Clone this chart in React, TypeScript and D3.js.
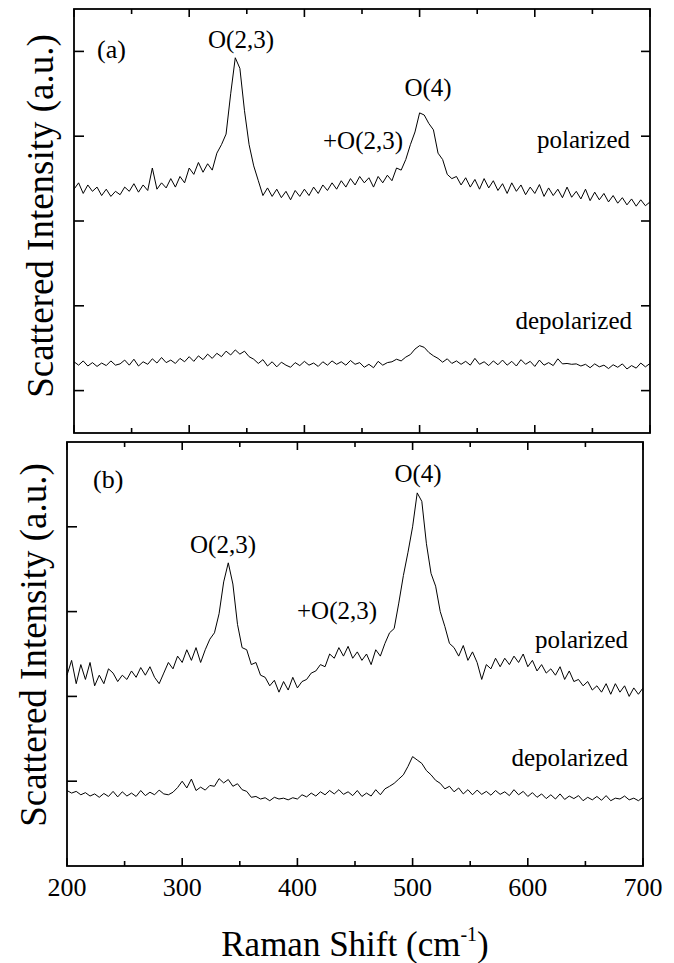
import React from "react";
import * as d3 from "d3";

// Raman shift grid (cm^-1), every 4 cm^-1 from 200 to 700
const wavenumbers: number[] = d3.range(200, 701, 4);

// Panel (a) polarized
const aPolarized: number[] = [
  57.5, 59.0, 56.5, 58.5, 57.0, 58.0, 56.0, 57.5, 55.8, 57.0, 56.2, 58.0, 57.0, 58.8, 56.8, 58.5, 57.2, 62.5,
  57.5, 59.0, 57.8, 60.0, 58.0, 60.5, 59.0, 62.5, 61.0, 63.8, 61.5, 63.5, 62.0, 66.0, 68.0, 70.5, 80.0, 88.5,
  86.0, 76.0, 68.0, 63.0, 59.5, 56.0, 57.8, 55.8, 57.5, 55.5, 57.0, 55.0, 57.2, 55.8, 57.5, 56.0, 58.0, 56.5,
  58.5, 57.2, 59.0, 57.5, 59.5, 58.0, 60.0, 58.5, 60.5, 59.0, 60.2, 58.0, 60.5, 59.0, 60.8, 59.5, 62.5, 62.0,
  64.5, 68.0, 71.0, 75.5, 75.0, 73.0, 71.5, 66.0, 64.5, 61.0, 60.0, 60.5, 58.5, 60.2, 58.0, 59.8, 57.5, 60.0,
  57.8, 59.5, 57.2, 58.8, 56.5, 59.0, 57.0, 58.5, 56.2, 58.0, 56.5, 58.6, 55.8, 57.8, 56.0, 57.5, 55.5, 58.0,
  55.6, 57.0, 55.2, 57.5, 54.8, 56.8, 55.0, 56.5, 54.5, 56.0, 54.2, 55.5, 53.8, 55.2, 53.5, 55.0, 53.6, 54.5,
];

// Panel (a) depolarized
const aDepolarized: number[] = [
  16.8, 16.0, 17.0, 15.8, 16.6, 15.7, 16.5, 15.9, 17.0, 16.0, 16.3, 17.2, 16.0, 17.4, 15.8, 16.8, 16.2, 17.5,
  16.5, 17.8, 16.6, 17.2, 16.4, 17.6, 16.8, 18.0, 16.9, 18.2, 17.3, 18.6, 17.6, 18.8, 18.0, 19.3, 18.4, 19.6,
  18.6, 19.3, 18.0, 17.4, 16.4, 17.3, 15.8, 16.8, 15.6, 16.7, 16.0, 15.5, 16.6, 15.9, 16.9, 16.0, 16.5, 15.7,
  16.8, 16.0, 17.0, 16.2, 16.8, 16.0, 17.1, 16.2, 16.6, 15.5, 16.2, 15.4, 16.9, 16.0, 16.6, 16.8, 17.4, 17.0,
  17.9, 18.5, 19.8, 20.6, 20.2, 19.0, 18.2, 17.6, 16.7, 17.5, 16.4, 17.0, 16.2, 16.9, 16.0, 17.6, 16.2, 16.8,
  15.9, 17.0, 16.1, 17.2, 16.0, 16.9, 15.8, 17.3, 16.2, 16.9, 15.7, 17.2, 16.0, 16.6, 15.9, 17.5, 16.3, 16.4,
  16.2, 16.3, 15.8, 16.2, 15.4, 16.3, 15.6, 16.0, 15.2, 16.1, 15.5, 16.3, 15.1, 15.9, 15.3, 16.5, 15.6, 16.4,
];

// Panel (b) polarized
const bPolarized: number[] = [
  45.0, 48.5, 43.0, 47.5, 44.0, 48.0, 42.5, 45.0, 43.0, 46.5, 45.5, 43.5, 45.0, 44.0, 46.0, 44.5, 46.8, 45.0,
  47.0, 44.5, 43.0, 45.5, 48.0, 46.5, 49.5, 48.0, 51.0, 48.5, 51.5, 48.0, 51.0, 53.5, 55.0, 59.5, 67.0, 71.5,
  66.5, 57.0, 51.5, 51.0, 47.5, 48.0, 45.0, 44.5, 42.5, 43.8, 41.0, 43.5, 41.5, 44.5, 42.0, 43.5, 44.0, 45.5,
  46.0, 47.5, 47.0, 50.0, 49.0, 51.5, 49.5, 51.8, 49.0, 50.5, 48.5, 50.0, 47.5, 51.0, 49.5, 52.5, 55.0, 56.0,
  62.0, 68.5, 74.0, 80.0, 88.0, 86.0, 76.0, 69.0, 66.0, 60.0, 56.5, 52.5, 51.5, 49.5, 52.0, 48.5, 50.5, 48.0,
  44.0, 47.5, 46.5, 49.0, 47.0, 49.0, 47.5, 49.5, 48.0, 50.0, 47.0, 48.5, 46.0, 47.5, 45.5, 46.5, 45.0, 47.0,
  44.0, 46.0, 43.5, 44.0, 42.5, 43.5, 41.5, 42.5, 41.0, 43.0, 40.5, 43.0, 41.0, 42.5, 40.0, 42.0, 40.5, 42.0,
];

// Panel (b) depolarized
const bDepolarized: number[] = [
  17.8, 17.2, 17.6, 16.8, 17.3, 16.5, 17.0, 16.2, 17.1, 16.4, 17.6, 16.3, 17.5, 16.5, 17.2, 16.4, 17.8, 16.6,
  17.4, 16.8, 17.9, 17.0, 16.8, 17.4, 18.5, 20.0, 18.4, 20.5, 17.8, 18.6, 17.9, 19.0, 18.8, 20.6, 19.6, 20.4,
  18.8, 19.4, 18.0, 17.6, 16.2, 16.4, 15.8, 16.1, 15.4, 16.2, 15.8, 16.0, 15.6, 16.1, 15.8, 16.8, 16.3, 17.2,
  16.5, 17.5, 16.8, 17.8, 17.0, 18.0, 16.9, 17.5, 16.6, 17.8, 16.4, 17.2, 16.5, 18.0, 16.8, 18.2, 18.8, 19.5,
  20.5, 21.5, 23.5, 25.8, 25.0, 24.2, 22.5, 21.5, 20.2, 19.5, 18.2, 18.8, 17.5, 18.4, 17.0, 18.0, 16.8, 17.9,
  16.9, 17.6, 16.7, 17.8, 16.9, 17.5, 16.6, 18.0, 16.8, 17.6, 16.4, 17.3, 16.2, 17.0, 15.9, 16.8, 15.8, 17.0,
  15.7, 16.5, 15.9, 16.6, 15.4, 16.2, 15.6, 16.4, 15.5, 16.6, 15.4, 16.0, 15.8, 16.5, 15.6, 16.0, 15.4, 16.2,
];

const xTicks: number[] = [200, 250, 300, 350, 400, 450, 500, 550, 600, 650, 700];
const xTickLabels: number[] = [200, 300, 400, 500, 600, 700];
const aYTicks: number[] = [10, 30, 50, 70, 90];
const bYTicks: number[] = [20, 40, 60, 80];

const FONT = "Liberation Serif, DejaVu Serif, serif";

type PanelProps = {
  left: number;
  top: number;
  width: number;
  height: number;
  yTicks: number[];
  rightTicks: boolean;
  series: number[][];
};

function Panel({ left, top, width, height, yTicks, rightTicks, series }: PanelProps) {
  const x = d3.scaleLinear().domain([200, 700]).range([left, left + width]);
  const y = d3.scaleLinear().domain([0, 100]).range([top + height, top]);
  const line = d3
    .line<number>()
    .x((_, i) => x(wavenumbers[i]))
    .y((d) => y(d));
  const bottom = top + height;
  const right = left + width;
  return (
    <g>
      {series.map((s, i) => (
        <path key={i} d={line(s) || ""} fill="none" stroke="#000" strokeWidth={1} strokeLinejoin="round" />
      ))}
      <rect x={left} y={top} width={width} height={height} fill="none" stroke="#000" strokeWidth={1.8} />
      {xTicks.map((t) => {
        const len = t % 100 === 0 ? 8 : 5;
        return (
          <g key={t}>
            <line x1={x(t)} x2={x(t)} y1={bottom} y2={bottom - len} stroke="#000" strokeWidth={1.6} />
            <line x1={x(t)} x2={x(t)} y1={top} y2={top + len} stroke="#000" strokeWidth={1.6} />
          </g>
        );
      })}
      {yTicks.map((t) => (
        <g key={t}>
          <line x1={left} x2={left + 10} y1={y(t)} y2={y(t)} stroke="#000" strokeWidth={1.6} />
          {rightTicks && <line x1={right} x2={right - 9} y1={y(t)} y2={y(t)} stroke="#000" strokeWidth={1.6} />}
        </g>
      ))}
    </g>
  );
}

export default function App() {
  const A = { left: 74, top: 9, width: 576, height: 424 };
  const B = { left: 67, top: 442, width: 576, height: 424 };
  const xB = d3.scaleLinear().domain([200, 700]).range([B.left, B.left + B.width]);
  const ann = { style: { fontFamily: FONT }, fontSize: 25, fill: "#000" } as const;
  return (
    <svg
      width={674}
      height={963}
      viewBox="0 0 674 963"
      style={{ position: "absolute", left: 0, top: 0, background: "#fff", fontFamily: FONT }}
    >
      <rect x={0} y={0} width={674} height={963} fill="#fff" />
      <Panel {...A} yTicks={aYTicks} rightTicks={true} series={[aPolarized, aDepolarized]} />
      <Panel {...B} yTicks={bYTicks} rightTicks={false} series={[bPolarized, bDepolarized]} />

      {/* panel (a) annotations */}
      <text x={97} y={58} {...ann} fontSize={26}>(a)</text>
      <text x={241} y={48} {...ann} textAnchor="middle">O(2,3)</text>
      <text x={428} y={96} {...ann} textAnchor="middle">O(4)</text>
      <text x={323} y={149} {...ann}>+O(2,3)</text>
      <text x={630} y={148} {...ann} textAnchor="end">polarized</text>
      <text x={632} y={329} {...ann} textAnchor="end">depolarized</text>

      {/* panel (b) annotations */}
      <text x={93} y={488} {...ann} fontSize={26}>(b)</text>
      <text x={223} y={553} {...ann} textAnchor="middle">O(2,3)</text>
      <text x={297} y={619} {...ann}>+O(2,3)</text>
      <text x={418} y={482} {...ann} textAnchor="middle">O(4)</text>
      <text x={628} y={648} {...ann} textAnchor="end">polarized</text>
      <text x={628} y={766} {...ann} textAnchor="end">depolarized</text>

      {/* x tick labels */}
      {xTickLabels.map((t) => (
        <text key={t} x={xB(t)} y={896} style={{ fontFamily: FONT }} fontSize={26} textAnchor="middle" fill="#000">
          {t}
        </text>
      ))}

      {/* axis titles */}
      <text x={355} y={956} style={{ fontFamily: FONT }} fontSize={35} textAnchor="middle" fill="#000">
        Raman Shift (cm
        <tspan fontSize={20} dy={-15}>-1</tspan>
        <tspan dy={15}>)</tspan>
      </text>
      <text
        transform="translate(53,216) rotate(-90)"
        style={{ fontFamily: FONT }}
        fontSize={37}
        textAnchor="middle"
        fill="#000"
      >
        Scattered Intensity (a.u.)
      </text>
      <text
        transform="translate(46,645) rotate(-90)"
        style={{ fontFamily: FONT }}
        fontSize={37}
        textAnchor="middle"
        fill="#000"
      >
        Scattered Intensity (a.u.)
      </text>
    </svg>
  );
}
